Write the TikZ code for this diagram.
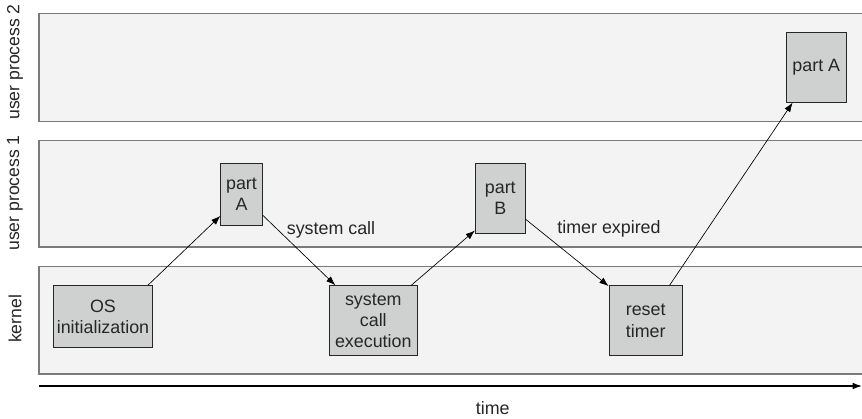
\documentclass[tikz,border=0pt]{standalone}
\usepackage{fontspec}
\setmainfont{Liberation Sans}
\usepackage{tikz}
\usetikzlibrary{arrows.meta}

\definecolor{lanefill}{HTML}{F3F3F3}
\definecolor{laneline}{HTML}{7A7A7A}
\definecolor{boxfill}{HTML}{CFD1D1}
\definecolor{inkgray}{HTML}{262626}

\tikzset{
  lane/.style={draw=laneline, fill=lanefill, line width=0.8pt},
  task/.style={draw=inkgray, fill=boxfill, line width=0.6pt, align=center,
    inner sep=0pt, text=inkgray, font=\fontsize{13.4}{16}\selectfont},
  lanelabel/.style={rotate=90, text=inkgray, font=\fontsize{13.2}{16}\selectfont},
  flow/.style={-{Latex[length=7pt,width=5pt]}, line width=0.5pt, draw=black},
  note/.style={text=inkgray, font=\fontsize{13.4}{16}\selectfont}
}

\begin{document}
\begin{tikzpicture}[x=0.75pt, y=-0.75pt]
\useasboundingbox (0,0) rectangle (862,418);
\draw[lane] (39,13.5) rectangle (863,121.5);
\draw[lane] (39,140.5) rectangle (863,247);
\draw[lane] (39,266.5) rectangle (863,374);
\node[lanelabel] (u2lbl) at (15,62) {user process 2};
\node[lanelabel] (u1lbl) at (15,193) {user process 1};
\node[lanelabel] (klbl) at (15,319) {kernel};
% the tasks in time order
\node[task, minimum width=74.5pt, minimum height=46.5pt] (osinit) at (103,316.7) {OS\\initialization};
\node[task, minimum width=31pt, minimum height=46.5pt] (partA) at (241.5,194) {part\\A};
\node[task, minimum width=66pt, minimum height=52.5pt] (syscall) at (373.3,320.7) {system\\call\\execution};
\node[task, minimum width=37.5pt, minimum height=52.5pt] (partB) at (500.3,198) {part\\B};
\node[task, minimum width=55pt, minimum height=52.5pt] (reset) at (645.7,320.7) {reset\\timer};
\node[task, minimum width=44.5pt, minimum height=52pt] (partA2) at (816.3,67.5) {part A};
\draw[flow] (osinit.35) -- (partA.226);
\draw[flow] (partA.315) -- (syscall.137);
\draw[flow] (syscall.43) -- (partB.232);
\draw[flow] (partB.320) -- (reset.137);
\draw[flow] (reset.56) -- (partA2.236);
\node[note] (sclbl) at (331,230) {system call};
\node[note] (telbl) at (609,229) {timer expired};
% time axis
\coordinate (t0) at (39,386);
\coordinate (t1) at (862,386);
\draw[flow, line width=0.9pt] (t0) -- (t1);
\node[note] (tlbl) at (492.7,408) {time};
\end{tikzpicture}
\end{document}
